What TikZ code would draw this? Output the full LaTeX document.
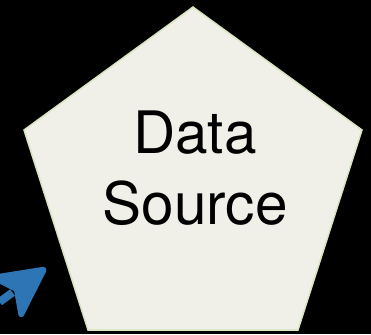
\documentclass[tikz,border=0pt]{standalone}
\usepackage{fontspec}
\setmainfont{TeX Gyre Heros}
\usetikzlibrary{arrows.meta}
\definecolor{bgblack}{RGB}{0,0,0}
\definecolor{srcfill}{RGB}{240,240,232}
\definecolor{srcedge}{RGB}{214,228,192}
\definecolor{arrowblue}{RGB}{46,117,182}
\tikzset{
  srcshape/.style={fill=srcfill, draw=srcedge, line width=1.5pt, line join=miter},
  srclabel/.style={align=center, inner sep=0pt, text=black,
    font=\fontsize{58.5pt}{71pt}\selectfont},
  bluearrow/.style={draw=arrowblue, line width=8pt, dash pattern=on 16pt off 8pt,
    -{Stealth[length=57pt, width=58pt, inset=14pt, line width=6pt, round, fill=arrowblue]}}
}
\begin{document}
\begin{tikzpicture}[x=1pt, y=-1pt]
  \useasboundingbox (0,0) rectangle (371,334);
  \clip (0,0) rectangle (371,334);
  \fill[bgblack] (0,0) rectangle (371,334);
  \draw[srcshape] (193,7) -- (362,130) -- (298,330) -- (88,330) -- (24,130) -- cycle;
  \node[srclabel] (source) at (195,168) {Data\\Source};
  \coordinate (arrowtail) at (-58.6,344.4);
  \coordinate (arrowtip) at (46,268);
  \draw[bluearrow] (arrowtail) -- (arrowtip);
\end{tikzpicture}
\end{document}
